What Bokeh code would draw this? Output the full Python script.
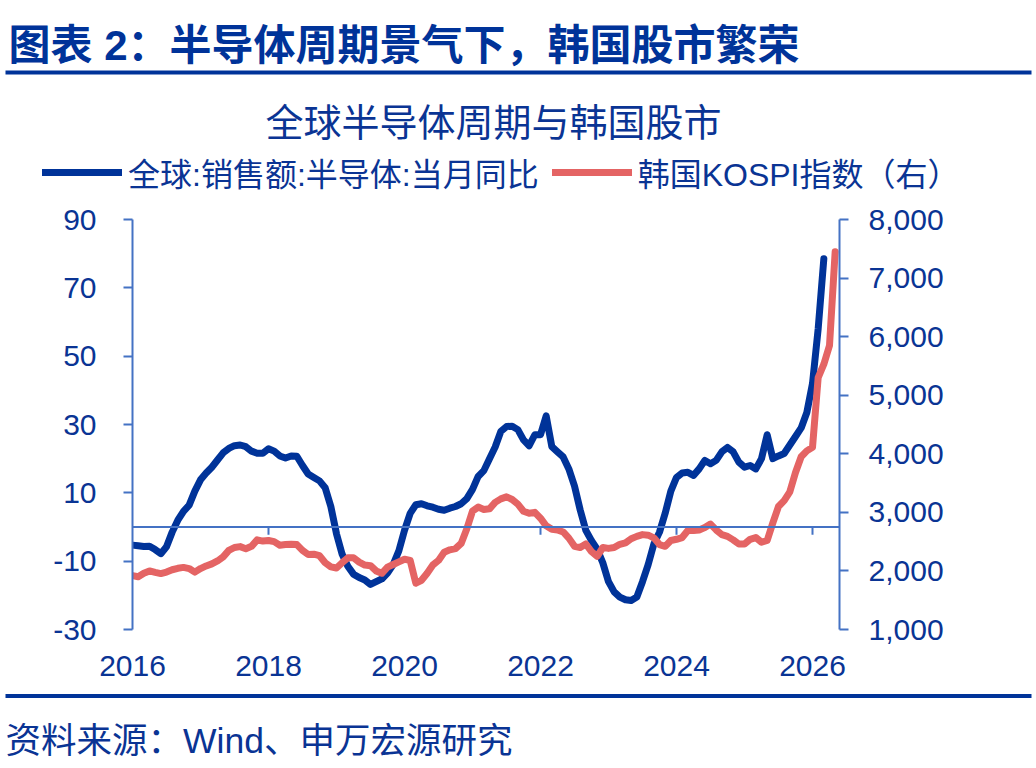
from bokeh.plotting import figure
from bokeh.models import (Range1d, LinearAxis, FixedTicker, NumeralTickFormatter,
                          Span, Label, Legend, LegendItem)
from bokeh.embed import file_html
from bokeh.resources import INLINE
import numpy as np

# Global semiconductor sales, YoY % (monthly from Jan 2016)
semi_yoy = [
    -5.3, -5.5, -5.7, -5.6, -6.6, -7.8, -5.8, -1.5, 2.0, 4.6, 6.4, 10.5,          # 2016
    13.8, 15.8, 17.5, 19.6, 21.7, 23.0, 23.8, 24.0, 23.5, 22.2, 21.6, 21.6,      # 2017
    22.9, 22.2, 20.8, 20.2, 20.8, 20.7, 18.0, 15.5, 14.5, 13.5, 11.5, 6.0,       # 2018
    -2.0, -8.0, -11.5, -13.8, -14.8, -15.5, -16.8, -16.0, -15.2, -13.5, -11.0, -7.0,  # 2019
    -1.0, 4.0, 6.5, 6.8, 6.2, 5.8, 5.2, 4.9, 5.5, 6.0, 6.8, 8.3,                 # 2020
    11.0, 14.8, 16.5, 20.0, 23.4, 28.0, 29.4, 29.5, 28.5, 25.5, 23.8, 27.0,      # 2021
    27.0, 32.5, 23.5, 22.0, 20.5, 17.0, 12.0, 5.0, -1.0, -4.0, -6.5, -10.5,      # 2022
    -16.0, -19.0, -20.5, -21.3, -21.5, -20.5, -16.0, -11.0, -5.0, -1.5, 4.0, 10.5,  # 2023
    14.5, 15.8, 16.0, 15.1, 17.0, 19.5, 18.5, 19.5, 22.0, 23.3, 22.0, 19.0,      # 2024
    17.5, 18.0, 17.0, 20.0, 27.0, 20.0, 20.8, 21.5, 24.0, 26.5, 29.0, 33.5,      # 2025
    42.0, 58.0, 78.5,                                                            # 2026
]

# KOSPI index level (monthly from Jan 2016)
kospi = [
    1920, 1900, 1960, 2000, 1975, 1955, 1980, 2020, 2045, 2060, 2040, 1980,
    2040, 2085, 2120, 2170, 2240, 2350, 2400, 2415, 2380, 2420, 2530, 2510,
    2520, 2500, 2440, 2450, 2455, 2450, 2350, 2280, 2285, 2260, 2140, 2070,
    2050, 2140, 2224, 2224, 2150, 2100, 2090, 2000, 1960, 2065, 2110, 2155,
    2200, 2180, 1790, 1840, 1960, 2100, 2180, 2320, 2360, 2380, 2470, 2720,
    3020, 3090, 3050, 3060, 3170, 3230, 3265, 3220, 3140, 3020, 2985, 3000,
    2900, 2770, 2710, 2700, 2665, 2560, 2420, 2400, 2460, 2330, 2250, 2400,
    2385, 2400, 2455, 2480, 2550, 2590, 2620, 2610, 2565, 2450, 2420, 2520,
    2540, 2570, 2690, 2690, 2700, 2740, 2800, 2700, 2620, 2590, 2530, 2460,
    2460, 2540, 2570, 2490, 2520, 2820, 3100, 3200, 3350, 3680, 3950, 4050,
    4110, 5300, 5530, 5850, 7450,
]

year_ticks = [2016, 2018, 2020, 2022, 2024, 2026]
left_ticks = [-30, -10, 10, 30, 50, 70, 90]
right_ticks = [1000, 2000, 3000, 4000, 5000, 6000, 7000, 8000]

header_text = "图表 2：半导体周期景气下，韩国股市繁荣"
title_text = "全球半导体周期与韩国股市"
semi_label = "全球:销售额:半导体:当月同比"
kospi_label = "韩国KOSPI指数（右）"
source_text = "资料来源：Wind、申万宏源研究"

start_year = 2016
t_semi = start_year + np.arange(len(semi_yoy)) / 12
t_kospi = start_year + np.arange(len(kospi)) / 12

NAVY = "#003399"
TEXT = "#0A3494"
RED = "#E46464"
AXIS = "#4472C4"
FONT = "Liberation Sans, Noto Sans CJK SC"
TICK_SIZE = "30px"
W = 1036


def decor_figure(height, y_top):
    """A blank strip whose data units are page pixels (y grows downward)."""
    f = figure(width=W, height=height, output_backend="svg", toolbar_location=None,
               x_range=Range1d(0, W), y_range=Range1d(y_top + height, y_top),
               x_axis_type=None, y_axis_type=None, min_border=0,
               outline_line_color=None, background_fill_color="white",
               border_fill_color="white")
    f.grid.visible = False
    return f


# ---- header strip: report caption, rule, chart title, legend ----
top = decor_figure(200, 0)
top.add_layout(Label(x=8, y=45, text=header_text, text_font=FONT,
                     text_font_size="42px", text_font_style="bold",
                     text_color=NAVY, text_baseline="middle", text_align="left"))
top.segment(x0=[5], y0=[72], x1=[1031], y1=[72], line_color=NAVY, line_width=4)
top.add_layout(Label(x=493, y=122, text=title_text, text_font=FONT,
                     text_font_size="38px", text_color=TEXT,
                     text_baseline="middle", text_align="center"))

# legend keys: same styling as the chart lines, no visible data of their own
semi_key = top.line(x=[np.nan], y=[np.nan], line_color=NAVY, line_width=7, line_cap="round")
kospi_key = top.line(x=[np.nan], y=[np.nan], line_color=RED, line_width=7, line_cap="round")
top.add_layout(Legend(items=[LegendItem(label=semi_label, renderers=[semi_key]),
                             LegendItem(label=kospi_label, renderers=[kospi_key])],
                      orientation="horizontal", location=(42, 5),
                      border_line_color=None, background_fill_alpha=0,
                      label_text_font_size="32px", label_text_font=FONT,
                      label_text_color=TEXT, glyph_width=80, glyph_height=36,
                      label_height=36, label_standoff=6, spacing=13,
                      padding=0, margin=0))

# ---- main chart ----
p = figure(width=W, height=490, output_backend="svg", toolbar_location=None,
           x_range=Range1d(2016, 2016 + 707 / 68), y_range=Range1d(-30, 90),
           min_border_left=132, min_border_right=197,
           min_border_top=19, min_border_bottom=61,
           outline_line_color=None, background_fill_color="white",
           border_fill_color="white")
p.grid.visible = False
p.extra_y_ranges = {"kospi": Range1d(1000, 8000)}

xa = p.xaxis[0]
xa.ticker = FixedTicker(ticks=year_ticks)
xa.axis_line_color = None
xa.major_tick_line_color = None
xa.minor_tick_line_color = None
xa.major_label_text_font_size = TICK_SIZE
xa.major_label_text_font = FONT
xa.major_label_text_color = TEXT
xa.major_label_standoff = 20


def style_y(ax, standoff):
    ax.axis_line_color = AXIS
    ax.axis_line_width = 2
    ax.major_tick_line_color = AXIS
    ax.major_tick_line_width = 2
    ax.major_tick_out = 9
    ax.major_tick_in = 0
    ax.minor_tick_line_color = None
    ax.major_label_text_font_size = TICK_SIZE
    ax.major_label_text_font = FONT
    ax.major_label_text_color = TEXT
    ax.major_label_standoff = standoff


ya = p.yaxis[0]
ya.ticker = FixedTicker(ticks=left_ticks)
ya.major_label_overrides = {t: str(t) for t in left_ticks if t < 0}
style_y(ya, 27)

ra = LinearAxis(y_range_name="kospi", ticker=FixedTicker(ticks=right_ticks),
                formatter=NumeralTickFormatter(format="0,0"))
style_y(ra, 20)
p.add_layout(ra, "right")

# zero line doubles as the time axis, with short ticks hanging below it
p.add_layout(Span(location=0, dimension="width", line_color=AXIS, line_width=2))
p.segment(x0=year_ticks[1:], y0=0, x1=year_ticks[1:], y1=-2.3,
          line_color=AXIS, line_width=2)

p.line(t_semi, semi_yoy, line_color=NAVY, line_width=7,
       line_join="round", line_cap="round")
p.line(t_kospi, kospi, y_range_name="kospi", line_color=RED,
       line_width=7, line_join="round", line_cap="round")

# ---- footer strip: rule and source note ----
foot = decor_figure(78, 690)
foot.segment(x0=[5], y0=[695.5], x1=[1031], y1=[695.5], line_color=NAVY, line_width=4)
foot.add_layout(Label(x=5, y=740, text=source_text, text_font=FONT,
                      text_font_size="35.5px", text_color=TEXT,
                      text_baseline="middle", text_align="left"))

# three independent roots stacked down the page
open("out.html", "w").write(file_html([top, p, foot], INLINE))
